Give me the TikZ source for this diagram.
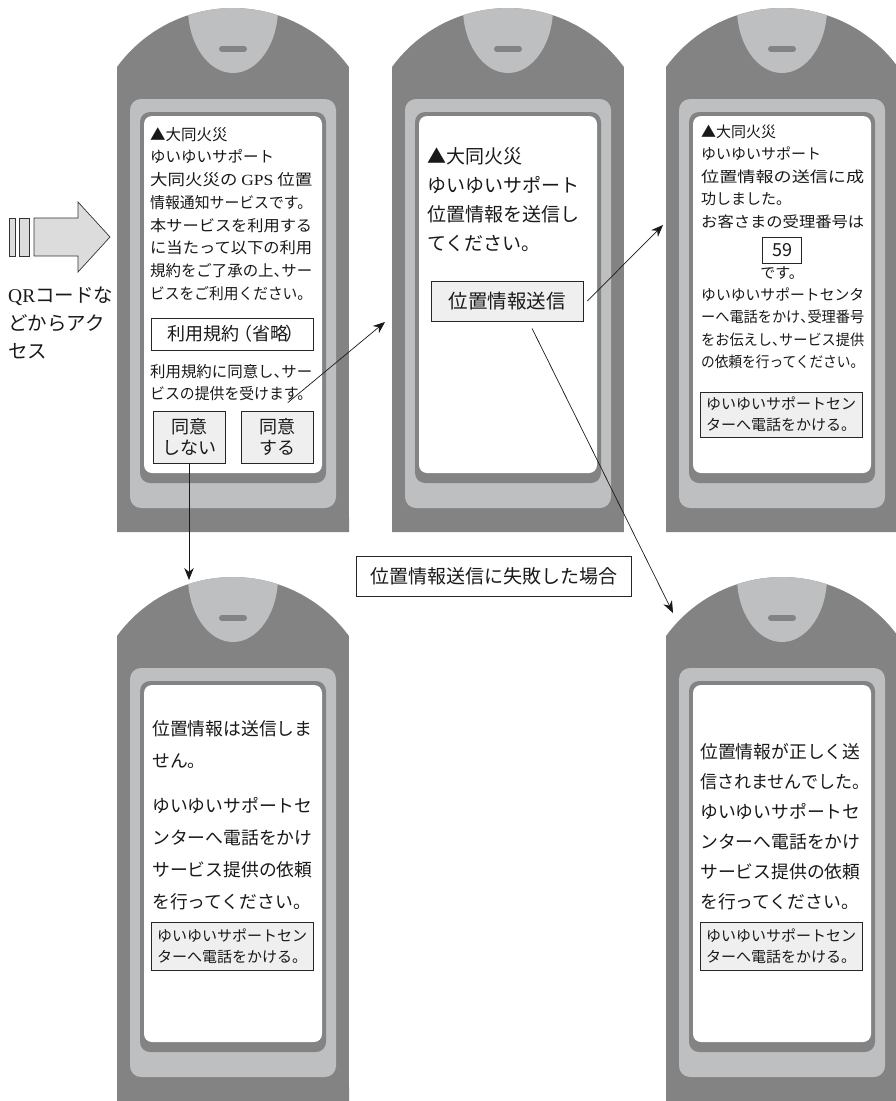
\documentclass[tikz,border=0pt]{standalone}
\usepackage{fontspec}
\setmainfont{Noto Sans CJK JP}
\newfontfamily\latin{Liberation Serif}
\usepackage{graphicx}
\usetikzlibrary{arrows.meta,positioning}
\definecolor{phonedark}{HTML}{838383}
\definecolor{phonelight}{HTML}{BEBFC1}
\definecolor{btnfill}{HTML}{EFEFEF}
\definecolor{arrowfill}{HTML}{DCDCDC}
\newcommand\fs[2]{\fontsize{#1}{#2}\selectfont}
\newcommand\fit[2]{\resizebox{#1pt}{\height}{#2}}
\newcommand\hc{\makebox[0.5em][l]{、}}
\tikzset{
    %Define standard arrow tip
    >={Stealth[length=12pt,width=9.5pt]},
    %Define style for screen text
    screen/.style={
           anchor=north west,
           inner sep=0pt,
           align=left,
           text=black!90},
    %Define style for boxes
    framed/.style={
           rectangle,
           draw=black!85, line width=0.8pt,
           fill=white,
           inner sep=0pt,
           align=center,
           text=black!90},
    btn/.style={
           framed,
           fill=btnfill},
    % Define arrow style
    link/.style={
           ->,
           line width=0.7pt,
           draw=black!90},
    blockarrow/.style={
           fill=arrowfill,
           draw=black!80,
           line width=0.7pt},
    % the phone, origin at top of the dome
    phone/.pic={
           \begin{scope}
           \clip (0,524) -- (0,59) arc[start angle=-143.9, end angle=-36.1, radius=143.5] -- (232,524) -- cycle;
           \fill[phonedark] (-1,-1) rectangle (233,525);
           \fill[phonelight] (116,0) ellipse [x radius=45, y radius=65];
           \end{scope}
           \draw[phonedark, line width=6pt, line cap=round] (105,41) -- (127,41);
           \fill[phonelight, rounded corners=11pt] (13,91) rectangle (219,500);
           \fill[phonedark, rounded corners=10pt] (23,104) rectangle (209,475);
           \fill[white, rounded corners=8pt] (27,108) rectangle (205,465);
    }
}
\begin{document}
\begin{tikzpicture}[x=1pt, y=-1pt]
\useasboundingbox (0,0) rectangle (896,1101);
% phones
\pic at (117,8) {phone};
\pic at (392,8) {phone};
\pic at (666,8) {phone};
\pic at (117,577) {phone};
\pic at (666,577) {phone};
% access arrow
\draw[blockarrow] (34,218) -- (78,218) -- (78,202) -- (110,237) -- (78,272) -- (78,256) -- (34,256) -- cycle;
\draw[blockarrow] (9,218) rectangle (15,256);
\draw[blockarrow] (19,218) rectangle (29,256);
\node[screen, font=\fs{19.5}{28}] (qr) at (8,287) {{\latin QR}コードな\\どからアク\\セス};
% first screen
\node[screen, font=\fs{15.5}{22.7}] (intro) at (150,127) {▲大同火災\\
  ゆいゆいサポート\\
  \fit{162}{大同火災の {\latin GPS} 位置}\\
  \fit{162}{情報通知サービスです。}\\
  \fit{162}{本サービスを利用する}\\
  \fit{162}{に当たって以下の利用}\\
  \fit{162}{規約をご了承の上\hc{}サー}\\
  \fit{162}{ビスをご利用ください。}};
\node[framed, minimum width=162pt, minimum height=32pt, font=\fs{18}{20}] (terms) at (232,334) {利用規約\kern-5pt（省略\kern-3pt）\kern-6pt};
\node[screen, font=\fs{15.5}{22.7}] (consent) at (150,364) {\fit{162}{利用規約に同意し\hc{}サー}\\
  \fit{162}{ビスの提供を受けます。}};
\node[btn, minimum width=72pt, minimum height=52pt, font=\fs{18}{21.5}] (decline) at (189,437) {同意\\しない};
\node[btn, minimum width=72pt, minimum height=52pt, font=\fs{18}{21.5}, right=16pt of decline] (agree) {同意\\する};
% second screen
\node[screen, font=\fs{19}{29}] (ask) at (427,147.5) {▲大同火災\\ゆいゆいサポート\\位置情報を送信し\\てください。};
\node[btn, minimum width=152pt, minimum height=40pt, font=\fs{19.5}{20}] (send) at (507,301) {位置情報送信};
% third screen
\node[screen, font=\fs{15}{22.5}] (done) at (701,124.5) {▲大同火災\\
  ゆいゆいサポート\\
  \fit{163}{位置情報の送信に成}\\
  功しました。\\
  \fit{163}{お客さまの受理番号は}};
\node[framed, minimum width=39pt, minimum height=26pt, font=\fs{18}{20}] (ticket) at (782,250) {59};
\node[inner sep=0pt, font=\fs{15}{20}, text=black!90, below=3pt of ticket] (ticketend) {です。};
\node[screen, font=\fs{15}{22.5}] (donetail) at (701,287.5) {\fit{163}{ゆいゆいサポートセンタ}\\
  \fit{163}{ーへ電話をかけ\hc{}受理番号}\\
  \fit{163}{をお伝えし\hc{}サービス提供}\\
  \fit{163}{の依頼を行ってください。}};
\node[btn, minimum width=162pt, minimum height=45pt, font=\fs{15}{21}] (callA) at (781,414.5) {ゆいゆいサポートセン\\ターへ電話をかける。};
% fourth screen
\node[screen, font=\fs{17.8}{32}] (refuse) at (152,720) {位置情報は送信しま\\せん。\\[13pt]
  ゆいゆいサポートセ\\ンターへ電話をかけ\\サービス提供の依頼\\を行ってください。};
\node[btn, minimum width=162pt, minimum height=48pt, font=\fs{15}{21}] (callB) at (232,946) {ゆいゆいサポートセン\\ターへ電話をかける。};
% fifth screen
\node[screen, font=\fs{17.8}{30}] (fail) at (700,743) {位置情報が正しく送\\\fit{169}{信されませんでした。}\\
  ゆいゆいサポートセ\\ンターへ電話をかけ\\サービス提供の依頼\\を行ってください。};
\node[btn, minimum width=162pt, minimum height=48pt, font=\fs{15}{21}] (callC) at (781,946) {ゆいゆいサポートセン\\ターへ電話をかける。};
\node[framed, minimum width=275pt, minimum height=40pt, font=\fs{19}{20}] (failnote) at (493.5,576) {位置情報送信に失敗した場合};
% connectors
\coordinate (toAsk) at (385,322);
\coordinate (toRefuse) at (189,580);
\coordinate (toDone) at (663,225);
\coordinate (toFail) at (673,613);
\draw[link] ([xshift=10pt,yshift=8pt]agree.north) -- (toAsk);
\draw[link] (decline.south) -- (decline.south |- toRefuse);
\draw[link] ([xshift=4pt]send.east) -- (toDone);
\draw[link] ([xshift=25pt,yshift=-7pt]send.south) -- (toFail);
\end{tikzpicture}
\end{document}
